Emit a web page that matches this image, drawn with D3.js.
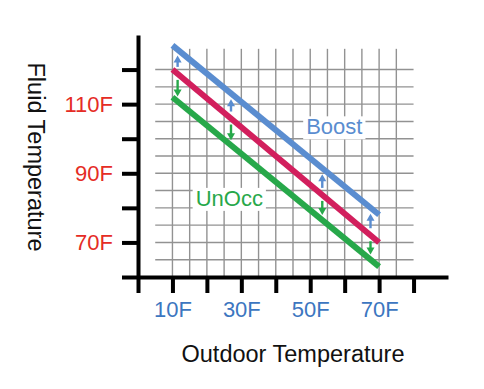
<!DOCTYPE html>
<html>
<head>
<meta charset="utf-8">
<script src="https://cdn.jsdelivr.net/npm/d3@7"></script>
<style>
  body { margin: 0; background: #fff; }
  text { font-family: "Liberation Sans", Arial, sans-serif; }
</style>
</head>
<body>
<script>
// outdoor temperature (F) at the two ends of each reset line
var outdoor = [10, 70];
// fluid temperature (F) for each line
var boost  = [127, 78];
var normal = [120, 70];
var unocc  = [112, 63];

var xTicks = [0, 10, 20, 30, 40, 50, 60, 70, 80];
var xLabeled = [10, 30, 50, 70];
var yTicks = [60, 70, 80, 90, 100, 110, 120];
var yLabeled = [70, 90, 110];

var gridX = [10, 15, 20, 25, 30, 35, 40, 45, 50, 55, 60, 65, 70, 75];
var gridY = [65, 70, 75, 80, 85, 90, 95, 100, 105, 110, 115, 120];

// where the little offset arrows sit (outdoor F)
var arrowX = [11.5, 27, 53.5, 67.5];

var screen = { width: 484, height: 389 };

var svg = d3.select('body').append('svg')
            .attr('width', screen.width)
            .attr('height', screen.height);

var xScale = d3.scaleLinear().domain([0, 90]).range([138, 448]);
var yScale = d3.scaleLinear().domain([60, 130]).range([277, 35]);

var colors = {
  boost: '#5a8dd0',
  normal: '#d21f5d',
  unocc: '#27a84a',
  xLabel: '#3c76c0',
  yLabel: '#e52c25'
};

// grid
var grid = svg.append('g').classed('grid', true);
grid.selectAll('line.v')
    .data(gridX)
    .enter()
    .append('line')
    .classed('v', true)
    .attr('x1', function(d){ return xScale(d); })
    .attr('x2', function(d){ return xScale(d); })
    .attr('y1', yScale(60))
    .attr('y2', yScale(126))
    .attr('stroke', '#929292')
    .attr('stroke-width', 1.4);
grid.selectAll('line.h')
    .data(gridY)
    .enter()
    .append('line')
    .classed('h', true)
    .attr('x1', xScale(5))
    .attr('x2', xScale(80))
    .attr('y1', function(d){ return yScale(d); })
    .attr('y2', function(d){ return yScale(d); })
    .attr('stroke', '#929292')
    .attr('stroke-width', 1.4);

// series labels with a white patch behind them
var labels = [
  { text: 'Boost', x: 57, y: 103.5, color: colors.boost },
  { text: 'UnOcc', x: 26.5, y: 82.8, color: colors.unocc }
];
labels.forEach(function(l){
  var g = svg.append('g');
  var rect = g.append('rect').attr('fill', '#fff');
  var t = g.append('text')
           .attr('x', xScale(l.x))
           .attr('y', yScale(l.y))
           .attr('text-anchor', 'middle')
           .attr('dy', '0.35em')
           .attr('font-size', 22)
           .attr('fill', l.color)
           .text(l.text);
  var b = t.node().getBBox();
  rect.attr('x', b.x - 3).attr('y', b.y + 2)
      .attr('width', b.width + 6).attr('height', b.height - 2);
});

// lines
var series = [
  { name: 'boost', values: boost },
  { name: 'normal', values: normal },
  { name: 'unocc', values: unocc }
];
var line = d3.line()
             .x(function(d){ return xScale(d[0]); })
             .y(function(d){ return yScale(d[1]); });

var valueAt = function(values, x){
  var s = d3.scaleLinear().domain(outdoor).range(values);
  return s(x);
};

// arrows
var arrows = svg.append('g').classed('arrows', true);
arrowX.forEach(function(ax){
  var px = xScale(ax);
  var red = yScale(valueAt(normal, ax));
  var blue = yScale(valueAt(boost, ax));
  var green = yScale(valueAt(unocc, ax));

  // up arrow toward boost
  var tipB = blue + 6;
  var startB = red - 7;
  arrows.append('line')
        .attr('x1', px).attr('x2', px)
        .attr('y1', startB).attr('y2', tipB + 5)
        .attr('stroke', colors.boost).attr('stroke-width', 2.4);
  arrows.append('path')
        .attr('d', 'M' + px + ',' + tipB + 'L' + (px - 4) + ',' + (tipB + 7) + 'L' + (px + 4) + ',' + (tipB + 7) + 'Z')
        .attr('fill', colors.boost);

  // down arrow toward unocc
  var tipG = green - 5;
  var startG = red + 6;
  arrows.append('line')
        .attr('x1', px).attr('x2', px)
        .attr('y1', startG).attr('y2', tipG - 5)
        .attr('stroke', colors.unocc).attr('stroke-width', 2.4);
  arrows.append('path')
        .attr('d', 'M' + px + ',' + tipG + 'L' + (px - 4) + ',' + (tipG - 7) + 'L' + (px + 4) + ',' + (tipG - 7) + 'Z')
        .attr('fill', colors.unocc);
});

svg.append('g').classed('lines', true)
   .selectAll('path')
   .data(series)
   .enter()
   .append('path')
   .attr('d', function(s){
     return line(outdoor.map(function(x, i){ return [x, s.values[i]]; }));
   })
   .attr('fill', 'none')
   .attr('stroke', function(s){ return colors[s.name]; })
   .attr('stroke-width', 6);

// axes
var xAxis = d3.axisBottom(xScale)
              .tickValues(xTicks)
              .tickSize(16)
              .tickSizeOuter(0)
              .tickPadding(8)
              .tickFormat(function(d){ return xLabeled.indexOf(d) >= 0 ? d + 'F' : ''; });
var yAxis = d3.axisLeft(yScale)
              .tickValues(yTicks)
              .tickSize(16)
              .tickSizeOuter(0)
              .tickPadding(9)
              .tickFormat(function(d){ return yLabeled.indexOf(d) >= 0 ? d + 'F' : ''; });

var gx = svg.append('g')
            .attr('transform', 'translate(0,' + yScale(60) + ')')
            .call(xAxis);
var gy = svg.append('g')
            .attr('transform', 'translate(' + xScale(0) + ',0)')
            .call(yAxis);

[gx, gy].forEach(function(g){
  g.select('.domain').attr('stroke', '#000').attr('stroke-width', 4);
  g.selectAll('.tick line').attr('stroke', '#000').attr('stroke-width', 4);
  g.selectAll('.tick text')
   .attr('font-family', '"Liberation Sans", Arial, sans-serif')
   .attr('font-size', 22);
});
gx.selectAll('.tick text').attr('fill', colors.xLabel);
gy.selectAll('.tick text').attr('fill', colors.yLabel);

// axis titles
svg.append('text')
   .attr('x', 293)
   .attr('y', 362)
   .attr('text-anchor', 'middle')
   .attr('font-size', 23.5)
   .attr('fill', '#111')
   .text('Outdoor Temperature');

svg.append('text')
   .attr('transform', 'translate(28,157) rotate(90)')
   .attr('text-anchor', 'middle')
   .attr('font-size', 23.5)
   .attr('fill', '#111')
   .text('Fluid Temperature');
</script>
</body>
</html>
